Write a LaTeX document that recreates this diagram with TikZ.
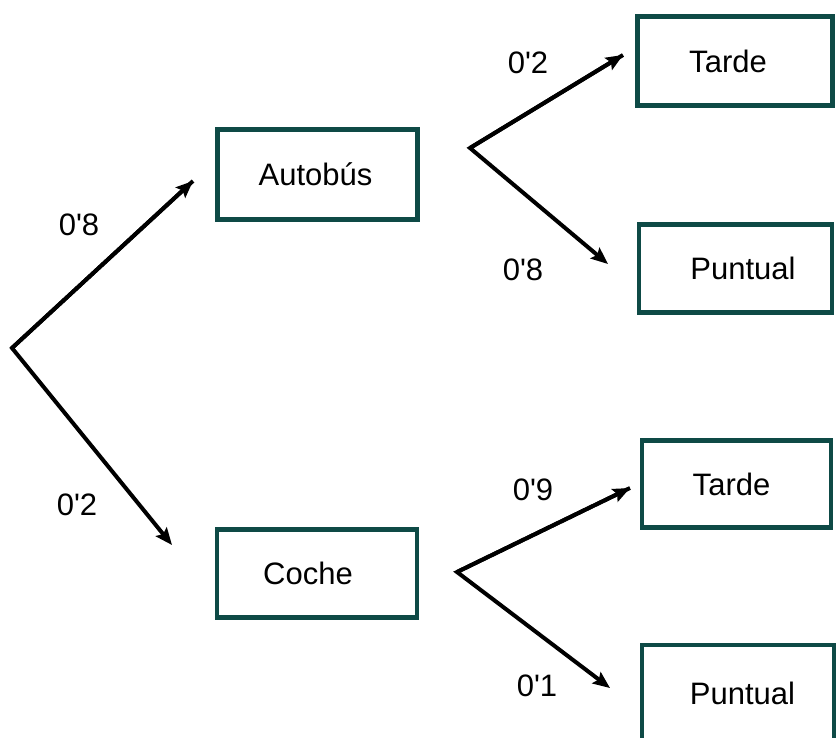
\documentclass[tikz,border=0pt]{standalone}
\usepackage{fontspec}
\setmainfont{Liberation Sans}[Ligatures=TeXOff]
\usetikzlibrary{arrows.meta}
\definecolor{boxteal}{HTML}{0E4A46}
\newcommand{\shiftby}[1]{\hspace*{#1}}
\begin{document}
\begin{tikzpicture}[x=1pt,y=-1pt,
  box/.style={draw=boxteal,line width=4.5pt,fill=white,inner sep=0pt,font=\fontsize{31}{35}\selectfont},
  lab/.style={inner sep=0pt,font=\fontsize{31}{35}\selectfont},
  arr/.style={line width=4pt,-{Stealth[length=17pt,width=14pt,inset=3pt]},line join=miter}]
\useasboundingbox (0,0) rectangle (837,737);
% boxes
\node[box,minimum width=200pt,minimum height=90pt] (aut) at (317.5,174.5) {\shiftby{-4pt}Autobús};
\node[box,minimum width=195pt,minimum height=89pt] (t1) at (735,61) {\shiftby{-14pt}Tarde};
\node[box,minimum width=193pt,minimum height=88pt] (p1) at (735.5,268.5) {\shiftby{15pt}Puntual};
\node[box,minimum width=200pt,minimum height=88pt] (coc) at (317,573.5) {\shiftby{-18pt}Coche};
\node[box,minimum width=189pt,minimum height=87pt] (t2) at (736.5,484) {\shiftby{-10pt}Tarde};
\node[box,minimum width=192pt,minimum height=96pt] (p2) at (738,693) {\shiftby{9pt}Puntual};
% coordinates
\coordinate (r) at (12,348);
\coordinate (ra) at (193,181);
\coordinate (rc) at (172,545);
\coordinate (v1) at (470,148);
\coordinate (v1a) at (623,55);
\coordinate (v1b) at (608,264);
\coordinate (v2) at (457,572);
\coordinate (v2a) at (630,488);
\coordinate (v2b) at (610,688);
% arrows
\draw[arr] (ra) -- (r) -- (rc);
\draw[arr] (r) -- (ra);
\draw[arr] (v1a) -- (v1) -- (v1b);
\draw[arr] (v1) -- (v1a);
\draw[arr] (v2a) -- (v2) -- (v2b);
\draw[arr] (v2) -- (v2a);
% labels
\node[lab] (l1) at (79,225) {0'8};
\node[lab] (l2) at (77,505) {0'2};
\node[lab] (l3) at (528,63) {0'2};
\node[lab] (l4) at (523,270) {0'8};
\node[lab] (l5) at (533,490) {0'9};
\node[lab] (l6) at (537,686) {0'1};
\end{tikzpicture}
\end{document}
